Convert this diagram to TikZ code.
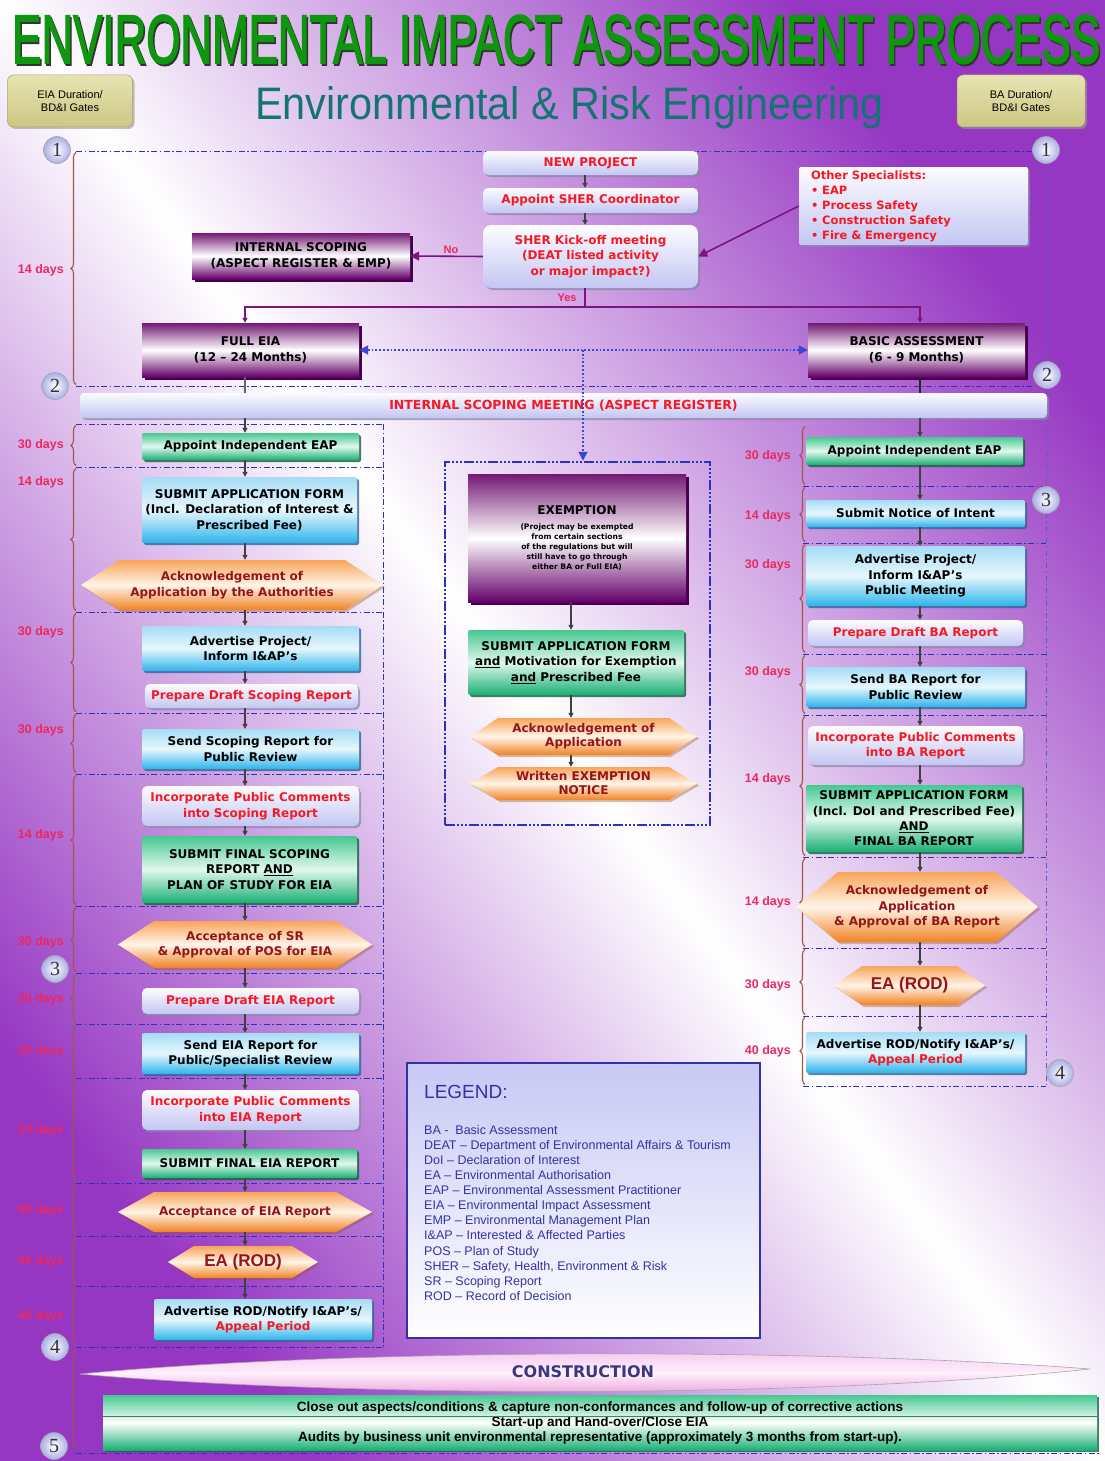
\documentclass[tikz,border=0pt]{standalone}
\usepackage{graphicx}
\usepackage{fontspec}
\setmainfont{DejaVu Sans}
\newfontfamily\arialf{Liberation Sans}
\newfontfamily\titlef{Liberation Sans}[FakeBold=2.5]
\newfontfamily\serifn{Liberation Serif}
\usetikzlibrary{arrows.meta,shadows,decorations.pathreplacing}
\definecolor{bgP}{RGB}{150,55,195}
\definecolor{gateblue}{RGB}{45,50,185}
\definecolor{bracec}{RGB}{165,85,70}
\definecolor{dayc}{RGB}{235,40,95}
\definecolor{redt}{RGB}{245,25,35}
\definecolor{darkred}{RGB}{150,20,25}
\definecolor{blueT}{RGB}{165,220,245}
\definecolor{blueM}{RGB}{230,247,253}
\definecolor{blueB}{RGB}{45,180,235}
\definecolor{blueS}{RGB}{50,100,150}
\definecolor{greenT}{RGB}{70,200,145}
\definecolor{greenM}{RGB}{225,248,238}
\definecolor{greenB}{RGB}{25,175,115}
\definecolor{greenS}{RGB}{20,95,60}
\definecolor{lavT}{RGB}{252,252,255}
\definecolor{lavB}{RGB}{195,198,242}
\definecolor{lavS}{RGB}{135,135,165}
\definecolor{purT}{RGB}{115,25,115}
\definecolor{purB}{RGB}{100,0,105}
\definecolor{purS}{RGB}{70,0,75}
\definecolor{orT}{RGB}{248,165,90}
\definecolor{orM}{RGB}{255,244,232}
\definecolor{orB}{RGB}{240,130,35}
\definecolor{goldT}{RGB}{230,227,178}
\definecolor{goldB}{RGB}{205,200,130}
\definecolor{legc}{RGB}{50,50,165}
\definecolor{legT}{RGB}{200,200,245}
\definecolor{tealc}{RGB}{20,115,115}
\definecolor{titleg}{RGB}{15,150,15}
\definecolor{arrowpur}{RGB}{125,20,125}
\definecolor{dotblue}{RGB}{60,70,210}
\definecolor{circO}{RGB}{170,175,228}
\definecolor{pinkT}{RGB}{245,195,238}
\definecolor{pinkM}{RGB}{255,240,252}
\definecolor{pinkB}{RGB}{232,150,215}
\definecolor{constc}{RGB}{55,55,130}
\tikzset{
  bx/.style={rectangle, align=center, inner sep=1pt, font=\fontsize{12}{15.5}\selectfont\bfseries, text=black},
  bluebx/.style={bx, top color=blueT, bottom color=blueB, middle color=blueM, rounded corners=2pt,
    drop shadow={shadow xshift=2pt, shadow yshift=-2pt, fill=blueS, opacity=0.8}},
  greenbx/.style={bx, top color=greenT, bottom color=greenB, middle color=greenM, rounded corners=2pt,
    drop shadow={shadow xshift=2pt, shadow yshift=-2pt, fill=greenS, opacity=0.8}},
  lavbx/.style={bx, text=redt, top color=lavT, bottom color=lavB, rounded corners=5pt,
    drop shadow={shadow xshift=2pt, shadow yshift=-2pt, fill=lavS, opacity=0.7}},
  purbx/.style={bx, top color=purT, bottom color=purB, middle color=white,
    drop shadow={shadow xshift=3pt, shadow yshift=-3pt, fill=purS, opacity=1}},
  hexfill/.style={top color=orT, bottom color=orB, middle color=orM},
  hexshadow/.style={fill=orB!60!black, opacity=0.35},
  hextx/.style={rectangle, align=center, inner sep=0pt, font=\fontsize{12}{15.5}\selectfont\bfseries, text=darkred},
  rodtx/.style={font=\arialf\bfseries\fontsize{17}{18}\selectfont, text=darkred},
  flow/.style={draw=black!75, line width=1.3pt, -{Triangle[length=5pt,width=5pt]}},
  plain/.style={draw=black!60, line width=1.3pt},
  purarrow/.style={draw=arrowpur, line width=1.6pt, -{Triangle[length=9pt,width=9pt]}},
  purline/.style={draw=arrowpur, line width=1.6pt},
  purdown/.style={draw=arrowpur, line width=1.6pt, -{Triangle[length=5pt,width=5pt]}},
  dotarrow/.style={draw=dotblue, line width=1.8pt, dotted},
  gate/.style={draw=gateblue, line width=1pt, dash pattern=on 6pt off 2.5pt on 1.5pt off 2.5pt},
  gatev/.style={draw=gateblue!80, line width=1pt, dash pattern=on 5pt off 3pt on 1.5pt off 3pt},
  brc/.style={draw=bracec, line width=1.1pt, decorate, decoration={brace, amplitude=5pt}},
  day/.style={text=dayc, font=\arialf\bfseries\fontsize{12.5}{14}\selectfont, inner sep=0pt, anchor=east},
  yn/.style={text=dayc, font=\arialf\bfseries\fontsize{11}{12}\selectfont, inner sep=0pt},
  gc/.style={circle, minimum size=27pt, inner sep=0pt, inner color=white, outer color=circO,
    draw=black!35, line width=0.6pt, font=\serifn\fontsize{20}{20}\selectfont, text=black!80},
  goldbx/.style={rectangle, rounded corners=6pt, top color=goldT, bottom color=goldB, draw=goldB!80!black,
    line width=0.5pt, minimum height=52pt, align=center, font=\arialf\fontsize{11}{12.5}\selectfont,
    drop shadow={shadow xshift=2pt, shadow yshift=-2pt, fill=black!40, opacity=0.6}},
  exfr/.style={rectangle, draw=gateblue, line width=2.5pt,
    dash pattern=on 10pt off 2pt on 2pt off 2pt on 2pt off 2pt on 2pt off 2pt},
}
\newcommand\hexn[8]{%
  \fill[hexshadow] ({#2-#4/2+2},{#3+2}) -- ({#2-#4/2+#6+2},{#3-#5/2+2}) -- ({#2+#4/2-#6+2},{#3-#5/2+2}) -- ({#2+#4/2+2},{#3+2}) -- ({#2+#4/2-#6+2},{#3+#5/2+2}) -- ({#2-#4/2+#6+2},{#3+#5/2+2}) -- cycle;
  \shade[hexfill] ({#2-#4/2},#3) -- ({#2-#4/2+#6},{#3-#5/2}) -- ({#2+#4/2-#6},{#3-#5/2}) -- ({#2+#4/2},#3) -- ({#2+#4/2-#6},{#3+#5/2}) -- ({#2-#4/2+#6},{#3+#5/2}) -- cycle;
  \node[hextx, minimum width=#4, minimum height=#5, #8] (#1) at (#2,#3) {#7};}
\newcommand\leftbr[5]{\draw[brc] (76,{#3-1.5}) -- (76,{#2+1.5}); \node[day] (#1) at (64,#5) {#4};}
\newcommand\rightbr[5]{\draw[brc] (805,{#3-1.5}) -- (805,{#2+1.5}); \node[day] (#1) at (791,#5) {#4};}
\begin{document}
\begin{tikzpicture}[x=1pt,y=-1pt]
\useasboundingbox (0,0) rectangle (1105,1461);
\shade[top color=bgP, bottom color=bgP, middle color=white, shading angle=-53] (0,0) rectangle (1105,1461);

% title
\node[inner sep=0pt, anchor=base west, text=black!80] (titlesh) at (13.5,65) {\resizebox{1088pt}{48pt}{\titlef ENVIRONMENTAL IMPACT ASSESSMENT PROCESS}};
\node[inner sep=0pt, anchor=base west, text=titleg] (title) at (12,63) {\resizebox{1088pt}{48pt}{\titlef ENVIRONMENTAL IMPACT ASSESSMENT PROCESS}};
\node[inner sep=0pt, anchor=base west, text=tealc] (subtitle) at (255,120) {\resizebox{628pt}{33pt}{\arialf Environmental \& Risk Engineering}};
\node[goldbx, minimum width=125pt] (goldL) at (70,101) {EIA Duration/\\BD\&I Gates};
\node[goldbx, minimum width=128pt] (goldR) at (1021,101) {BA Duration/\\BD\&I Gates};

% gate lines
\draw[gate] (76,151) -- (1032,151);
\draw[gate] (76,386) -- (1033,386);
\draw[gatev] (1046,163) -- (1046,1086);
\foreach \yy in {424,467,612,713,774,906,973,1024,1078,1183,1236,1286,1347}
  \draw[gate] (76,\yy) -- (383,\yy);
\draw[gate] (383,424) -- (383,1347);
\foreach \yy in {486,543,654,715,857,948,1016,1086}
  \draw[gate] (803,\yy) -- (1046,\yy);
\draw[gate] (76,1453) -- (1100,1453);

% braces
\leftbr{dL0}{151}{386}{14 days}{270}
\leftbr{dL1}{424}{467}{30 days}{445}
\leftbr{dL2}{467}{612}{14 days}{482}
\leftbr{dL3}{612}{713}{30 days}{632}
\leftbr{dL4}{713}{774}{30 days}{730}
\leftbr{dL5}{774}{906}{14 days}{835}
\leftbr{dL6}{906}{973}{30 days}{942}
\leftbr{dL7}{973}{1024}{30 days}{999}
\leftbr{dL8}{1024}{1078}{30 days}{1051}
\leftbr{dL9}{1078}{1183}{14 days}{1130}
\leftbr{dL10}{1183}{1236}{60 days}{1210}
\leftbr{dL11}{1236}{1286}{45 days}{1261}
\leftbr{dL12}{1286}{1347}{40 days}{1316}
\draw[brc] (76,1448) -- (76,1349);
\rightbr{dR1}{425}{486}{30 days}{456}
\rightbr{dR2}{486}{543}{14 days}{516}
\rightbr{dR3}{543}{654}{30 days}{565}
\rightbr{dR4}{654}{715}{30 days}{672}
\rightbr{dR5}{715}{857}{14 days}{779}
\rightbr{dR6}{857}{948}{14 days}{902}
\rightbr{dR7}{948}{1016}{30 days}{985}
\rightbr{dR8}{1016}{1086}{40 days}{1051}

% helper coordinates
\coordinate (lx) at (245,0);
\coordinate (rx) at (920,0);
\coordinate (cx) at (585,0);
\coordinate (ex) at (571,0);
\coordinate (yesj) at (585,307);
\coordinate (mid) at (583,350);
\coordinate (divy) at (0,1416);

% top flow
\node[lavbx, minimum width=215pt, minimum height=24pt] (newp) at (590.5,163) {NEW PROJECT};
\node[lavbx, minimum width=215pt, minimum height=25pt] (sherc) at (590.5,200.5) {Appoint SHER Coordinator};
\node[lavbx, rounded corners=8pt, minimum width=215pt, minimum height=63pt] (kick) at (590.5,256.5) {SHER Kick-off meeting\\(DEAT listed activity\\or major impact?)};
\node[lavbx, align=left, text width=205pt, inner xsep=12pt, minimum height=78pt, rounded corners=2pt,
  font=\fontsize{11.5}{15}\selectfont\bfseries] (others) at (913.5,206) {Other Specialists:\\\textbullet{} EAP\\\textbullet{} Process Safety\\\textbullet{} Construction Safety\\\textbullet{} Fire \& Emergency};
\node[purbx, minimum width=218pt, minimum height=46pt] (intscop) at (301,256) {INTERNAL SCOPING\\(ASPECT REGISTER \& EMP)};
\node[purbx, minimum width=217pt, minimum height=54pt] (fulleia) at (250.5,350) {FULL EIA\\(12 – 24 Months)};
\node[purbx, minimum width=217pt, minimum height=54pt] (basic) at (916.5,350) {BASIC ASSESSMENT\\(6 - 9 Months)};
\node[lavbx, rounded corners=4pt, minimum width=967pt, minimum height=25pt, font=\fontsize{12.5}{14}\selectfont\bfseries] (band) at (563.5,405.5) {INTERNAL SCOPING MEETING (ASPECT REGISTER)};

\draw[flow] (newp.south -| cx) -- (sherc.north -| cx);
\draw[flow] (sherc.south -| cx) -- (kick.north -| cx);
\draw[purarrow] (others.west) -- (kick.east);
\draw[purarrow] (kick.west) -- (intscop.east);
\node[yn] (nolab) at (451,250) {No};
\draw[purline] (kick.south -| cx) -- (yesj);
\node[yn] (yeslab) at (567,298) {Yes};
\draw[purdown] (yesj) -| (fulleia.north -| lx);
\draw[purdown] (yesj) -| (basic.north -| rx);
\draw[dotarrow, {Triangle[length=9pt,width=9pt]}-{Triangle[length=9pt,width=9pt]}] (fulleia.east) -- (basic.west);
\draw[plain] (fulleia.south -| lx) -- (band.north -| lx);
\draw[plain, draw=black!85] (basic.south -| rx) -- (band.north -| rx);

% left column (EIA)
\node[greenbx, minimum width=217pt, minimum height=27pt] (L1) at (250.5,446.5) {Appoint Independent EAP};
\node[bluebx, minimum width=215pt, minimum height=66pt] (L2) at (249.5,510) {SUBMIT APPLICATION FORM\\(Incl. Declaration of Interest \&\\Prescribed Fee)};
\hexn{L3}{232}{585}{302}{50}{38}{Acknowledgement of\\Application by the Authorities}{}
\node[bluebx, minimum width=217pt, minimum height=45pt] (L4) at (250.5,648.5) {Advertise Project/\\Inform I\&AP's};
\node[lavbx, minimum width=213pt, minimum height=24pt] (L5) at (251.5,696) {Prepare Draft Scoping Report};
\node[bluebx, minimum width=217pt, minimum height=40pt] (L6) at (250.5,749) {Send Scoping Report for\\Public Review};
\node[lavbx, minimum width=217pt, minimum height=40pt] (L7) at (250.5,806) {Incorporate Public Comments\\into Scoping Report};
\node[greenbx, minimum width=215pt, minimum height=67pt] (L8) at (249.5,869.5) {SUBMIT FINAL SCOPING\\REPORT \underline{AND}\\PLAN OF STUDY FOR EIA};
\hexn{L9}{245}{944.5}{254}{47}{36}{Acceptance of SR\\\& Approval of POS for EIA}{}
\node[lavbx, minimum width=217pt, minimum height=26pt] (L10) at (250.5,1001) {Prepare Draft EIA Report};
\node[bluebx, minimum width=217pt, minimum height=41pt] (L11) at (250.5,1053.5) {Send EIA Report for\\Public/Specialist Review};
\node[lavbx, minimum width=217pt, minimum height=40pt] (L12) at (250.5,1110) {Incorporate Public Comments\\into EIA Report};
\node[greenbx, minimum width=215pt, minimum height=29pt] (L13) at (249.5,1163.5) {SUBMIT FINAL EIA REPORT};
\hexn{L14}{245}{1212}{254}{40}{36}{Acceptance of EIA Report}{}
\hexn{L15}{243}{1262}{150}{32}{26}{EA (ROD)}{rodtx}
\node[bluebx, minimum width=218pt, minimum height=41pt] (L16) at (263,1319.5) {Advertise ROD/Notify I\&AP's/\\\textcolor{redt}{Appeal Period}};

\draw[flow] (band.south -| lx) -- (L1.north -| lx);
\foreach \a/\b in {L1/L2,L2/L3,L3/L4,L4/L5,L5/L6,L6/L7,L7/L8,L8/L9,L9/L10,L10/L11,L11/L12,L12/L13,L13/L14,L14/L15,L15/L16}
  \draw[flow] (\a.south -| lx) -- (\b.north -| lx);

% centre column (exemption)
\node[exfr, minimum width=265pt, minimum height=363pt] (exframe) at (577.5,643.5) {};
\draw[dotarrow, -{Triangle[length=9pt,width=9pt]}] (mid) -- (exframe.north -| mid);
\node[purbx, minimum width=218pt, minimum height=128pt] (exempt) at (577,538) {EXEMPTION\\\parbox[t]{200pt}{\centering\fontsize{7.6}{10}\selectfont (Project may be exempted\\from certain sections\\of the regulations but will\\still have to go through\\either BA or Full EIA)}};
\node[greenbx, minimum width=216pt, minimum height=65pt] (exapp) at (576,662.5) {SUBMIT APPLICATION FORM\\\underline{and} Motivation for Exemption\\\underline{and} Prescribed Fee};
\hexn{exack}{583.5}{736.5}{227}{37}{28}{Acknowledgement of\\Application}{font=\fontsize{12}{14}\selectfont\bfseries}
\hexn{exnot}{583.5}{783.5}{227}{33}{28}{Written EXEMPTION\\NOTICE}{font=\fontsize{12}{14}\selectfont\bfseries}
\draw[flow] (exempt.south -| ex) -- (exapp.north -| ex);
\draw[flow] (exapp.south -| ex) -- (exack.north -| ex);
\draw[flow] (exack.south -| ex) -- (exnot.north -| ex);

% right column (BA)
\node[greenbx, minimum width=217pt, minimum height=28pt] (R1) at (914.5,451) {Appoint Independent EAP};
\node[bluebx, minimum width=219pt, minimum height=27pt] (R2) at (915.5,513.5) {Submit Notice of Intent};
\node[bluebx, minimum width=219pt, minimum height=60pt] (R3) at (915.5,576) {Advertise Project/\\Inform I\&AP's\\Public Meeting};
\node[lavbx, minimum width=215pt, minimum height=26pt] (R4) at (915.5,633) {Prepare Draft BA Report};
\node[bluebx, minimum width=219pt, minimum height=40pt] (R5) at (915.5,687) {Send BA Report for\\Public Review};
\node[lavbx, minimum width=215pt, minimum height=39pt] (R6) at (915.5,745.5) {Incorporate Public Comments\\into BA Report};
\node[greenbx, minimum width=216pt, minimum height=67pt, font=\fontsize{12}{15.3}\selectfont\bfseries] (R7) at (914,818.5) {SUBMIT APPLICATION FORM\\(Incl. DoI and Prescribed Fee)\\\underline{AND}\\FINAL BA REPORT};
\hexn{R8}{917}{907}{242}{70}{42}{Acknowledgement of\\Application\\\& Approval of BA Report}{}
\hexn{R9}{909.5}{985.5}{151}{39}{28}{EA (ROD)}{rodtx}
\node[bluebx, minimum width=219pt, minimum height=41pt] (R10) at (915.5,1052.5) {Advertise ROD/Notify I\&AP's/\\\textcolor{redt}{Appeal Period}};

\draw[flow] (band.south -| rx) -- (R1.north -| rx);
\foreach \a/\b in {R1/R2,R2/R3,R3/R4,R4/R5,R5/R6,R6/R7,R7/R8,R8/R9,R9/R10}
  \draw[flow] (\a.south -| rx) -- (\b.north -| rx);

% legend
\node[rectangle, draw=legc, line width=1.5pt, top color=legT, bottom color=white, minimum width=353pt, minimum height=275pt] (legend) at (583.5,1200.5) {};
\node[anchor=west, inner sep=0pt, text=legc, font=\arialf\fontsize{19}{22}\selectfont] (legtitle) at (424,1092) {LEGEND:};
\node[anchor=north west, inner sep=0pt, align=left, text=legc, font=\arialf\fontsize{12.5}{15.1}\selectfont] (legtext) at (424,1125) {BA -~ Basic Assessment\\DEAT – Department of Environmental Affairs \& Tourism\\DoI – Declaration of Interest\\EA – Environmental Authorisation\\EAP – Environmental Assessment Practitioner\\EIA – Environmental Impact Assessment\\EMP – Environmental Management Plan\\I\&AP – Interested \& Affected Parties\\POS – Plan of Study\\SHER – Safety, Health, Environment \& Risk\\SR – Scoping Report\\ROD – Record of Decision};

% construction
\shade[top color=pinkT, bottom color=pinkB, middle color=pinkM, draw=black!35, line width=0.6pt]
  (80,1374) .. controls (350,1348) and (820,1348) .. (1090,1369) .. controls (820,1398) and (350,1398) .. (80,1374) -- cycle;
\node[inner sep=0pt, text=constc, font=\fontsize{16}{18}\selectfont\bfseries] (constr) at (583,1372) {CONSTRUCTION};
\node[rectangle, top color=greenT, bottom color=greenB, middle color=white, minimum width=994pt, minimum height=55pt,
  align=center, inner sep=0pt, font=\arialf\bfseries\fontsize{13.5}{15}\selectfont,
  drop shadow={shadow xshift=2pt, shadow yshift=-2pt, fill=greenS, opacity=0.8}] (closeout) at (600,1422.5)
  {Close out aspects/conditions \& capture non-conformances and follow-up of corrective actions\\Start-up and Hand-over/Close EIA\\Audits by business unit environmental representative (approximately 3 months from start-up).};
\draw[draw=greenS!80, line width=0.8pt] (closeout.west |- divy) -- (closeout.east |- divy);

% gate circles
\node[gc] (c1L) at (57,150) {1};
\node[gc] (c1R) at (1046,150) {1};
\node[gc] (c2L) at (55,386) {2};
\node[gc] (c2R) at (1047,375) {2};
\node[gc] (c3R) at (1046,500) {3};
\node[gc] (c3L) at (55,969) {3};
\node[gc] (c4R) at (1060,1073) {4};
\node[gc] (c4L) at (55,1347) {4};
\node[gc] (c5L) at (54,1446) {5};
\end{tikzpicture}
\end{document}
